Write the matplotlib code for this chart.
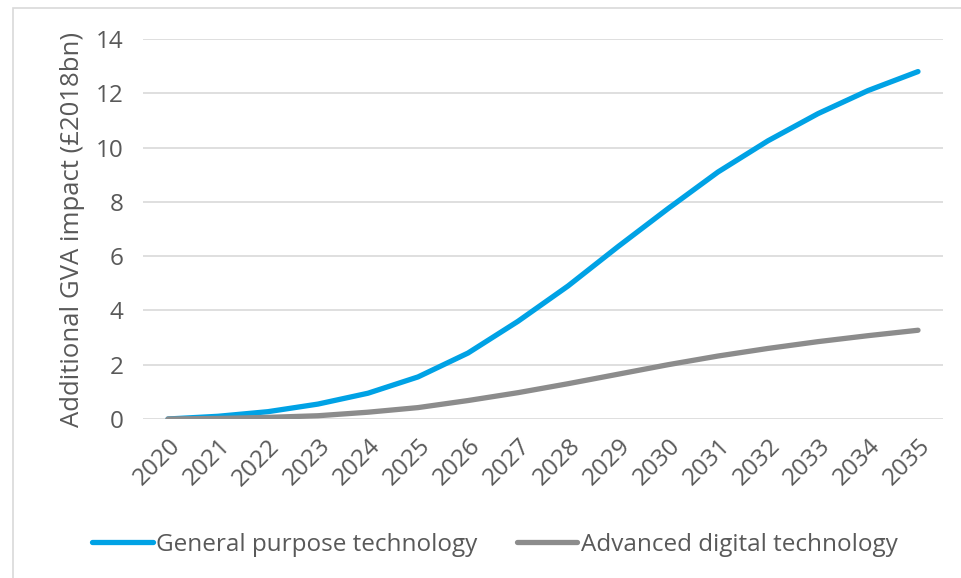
import matplotlib.pyplot as plt
from matplotlib.patches import Rectangle

years = [str(y) for y in range(2020, 2036)]
general_purpose = [0.0, 0.1, 0.27, 0.55, 0.95, 1.55, 2.43, 3.6, 4.9, 6.35, 7.75,
                   9.1, 10.25, 11.25, 12.1, 12.8]
advanced_digital = [0.0, 0.02, 0.06, 0.12, 0.25, 0.42, 0.68, 0.97, 1.3, 1.65, 2.0,
                    2.32, 2.6, 2.85, 3.07, 3.27]

text_col = '#595959'
plt.rcParams['font.family'] = ['Open Sans', 'DejaVu Sans']

fig = plt.figure(figsize=(9.61, 5.78), dpi=100)
ax = fig.add_axes([143 / 961, 1 - 419 / 578, 800 / 961, 380 / 578])

x = list(range(len(years)))
ax.plot(x, general_purpose, color='#00A2E5', lw=3.8, solid_capstyle='round',
        label='General purpose technology', zorder=3)
ax.plot(x, advanced_digital, color='#8C8C8C', lw=3.8, solid_capstyle='round',
        label='Advanced digital technology', zorder=3)

ax.set_xlim(-0.5, len(years) - 0.5)
ax.set_ylim(0, 14)
ax.set_yticks(range(0, 15, 2))
ax.set_xticks(x)
ax.set_xticklabels(years, rotation=45, ha='right', rotation_mode='anchor')
ax.grid(axis='y', color='#D9D9D9', lw=1.2)
ax.set_axisbelow(True)
for edge in ['left', 'right', 'top', 'bottom']:
    ax.spines[edge].set_visible(False)
ax.tick_params(length=0, labelsize=17.5, colors=text_col)
ax.tick_params(axis='x', pad=11)
ax.tick_params(axis='y', pad=14)
ax.set_ylabel('Additional GVA impact (£2018bn)', fontsize=18.5, color=text_col, labelpad=8)

fig.legend(loc='center', bbox_to_anchor=(0.515, 1 - 545 / 578), ncol=2, frameon=False,
           fontsize=17.5, labelcolor=text_col, handlelength=2.5, handletextpad=0.15,
           columnspacing=1.6)

# light outline round the chart area
fig.patches.append(Rectangle((13 / 961, -0.1), 1.2, 1 - 8 / 578 + 0.1,
                             transform=fig.transFigure, fill=False,
                             edgecolor='#D9D9D9', lw=1.2))

plt.savefig('out.png', dpi=100)
